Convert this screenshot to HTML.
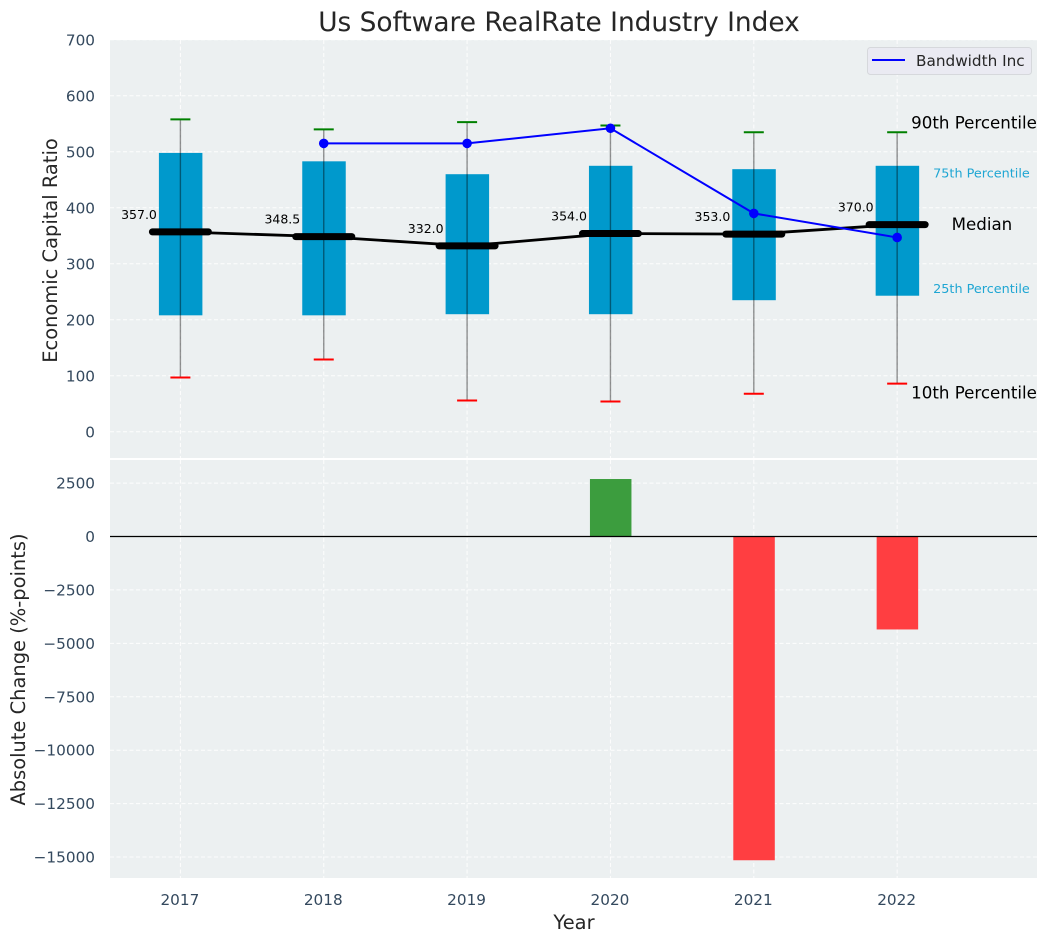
<!DOCTYPE html>
<html lang="en">
<head>
<meta charset="utf-8">
<title>Us Software RealRate Industry Index</title>
<style>
html,body{margin:0;padding:0;background:#fff;width:1048px;height:942px;overflow:hidden}
svg{display:block;font-family:"DejaVu Sans","Liberation Sans",sans-serif}
</style>
</head>
<body>
<svg id="chart" xmlns="http://www.w3.org/2000/svg" width="1048" height="942" viewBox="0 0 1048 942">
  <rect x="110" y="40" width="927" height="418" fill="#ecf0f1"/>
  <rect x="110" y="460" width="927" height="418" fill="#ecf0f1"/>
  <g id="grid"></g>
  <g id="top-marks"></g>
  <g id="bottom-marks"></g>
  <g id="ticks"></g>
  <text x="559" y="31" text-anchor="middle" font-size="26.4" fill="#262626">Us Software RealRate Industry Index</text>
  <text transform="translate(57,250.5) rotate(-90)" text-anchor="middle" font-size="19.44" fill="#262626">Economic Capital Ratio</text>
  <text transform="translate(25,669.5) rotate(-90)" text-anchor="middle" font-size="19.44" fill="#262626">Absolute Change (%-points)</text>
  <text x="574" y="929" text-anchor="middle" font-size="19.44" fill="#262626">Year</text>
  <g>
    <rect x="867.5" y="47.5" width="164" height="27" rx="3" fill="#eaeaf2" stroke="#d6d8dc"/>
    <line x1="872" y1="60" x2="905" y2="60" stroke="#0000ff" stroke-width="2"/>
    <text x="916" y="66" font-size="15.28" fill="#262626">Bandwidth Inc</text>
  </g>
</svg>
<script>
const years = [2017, 2018, 2019, 2020, 2021, 2022];
const p90 = [558, 540, 553, 547, 535, 535];
const p75 = [498, 483, 460, 475, 469, 475];
const medians = [357.0, 348.5, 332.0, 354.0, 353.0, 370.0];
const p25 = [208, 208, 210, 210, 235, 243];
const p10 = [97, 129, 56, 54, 68, 86];
const bandwidthInc = [null, 515, 515, 542, 390, 347];
const absoluteChange = [null, null, null, 2690, -15150, -4350];
const topTicks = [0, 100, 200, 300, 400, 500, 600, 700];
const bottomTicks = [2500, 0, -2500, -5000, -7500, -10000, -12500, -15000];

const NS = 'http://www.w3.org/2000/svg';
const xS = v => 180.4 + (v - 2017) * 143.35;
const yTop = v => 431.8 - v * 0.56;
const yBot = v => 536.5 - v * 0.02137;
const make = (parent, tag, props, text) => {
  const e = document.createElementNS(NS, tag);
  for (const k in props) e.setAttribute(k, props[k]);
  if (text !== undefined) e.textContent = text;
  document.getElementById(parent).appendChild(e);
  return e;
};
const tickColor = '#34495e';
const gridStyle = {stroke: '#ffffff', 'stroke-width': 1, 'stroke-dasharray': '4 2.5', opacity: 0.9};
let el;

topTicks.forEach(t => {
  el = make('grid', 'line', {x1: 110, x2: 1037, y1: yTop(t), y2: yTop(t), ...gridStyle});
  
  
  el = make('ticks', 'text', {x: 95, y: yTop(t) + 5.5, 'text-anchor': 'end', 'font-size': 15.28, fill: tickColor}, String(t));
  
  
});
bottomTicks.forEach(t => {
  el = make('grid', 'line', {x1: 110, x2: 1037, y1: yBot(t), y2: yBot(t), ...gridStyle});
  
  
  el = make('ticks', 'text', {x: 95, y: yBot(t) + 5.5, 'text-anchor': 'end', 'font-size': 15.28, fill: tickColor}, String(t).replace('-', '\u2212'));
  
  
});
years.forEach(y => {
  el = make('grid', 'line', {x1: xS(y), x2: xS(y), y1: 40, y2: 458, ...gridStyle});
  
  
  el = make('grid', 'line', {x1: xS(y), x2: xS(y), y1: 460, y2: 878, ...gridStyle});
  
  
  el = make('ticks', 'text', {x: xS(y) - 0.5, y: 905, 'text-anchor': 'middle', 'font-size': 15.28, fill: tickColor}, String(y));
  
  
});

years.forEach((y, i) => {
  el = make('top-marks', 'rect', {x: xS(y) - 21.5, y: yTop(p75[i]), width: 43.5, height: yTop(p25[i]) - yTop(p75[i]), fill: '#0099cc'});
  
  
  el = make('top-marks', 'line', {x1: xS(y), x2: xS(y), y1: yTop(p90[i]), y2: yTop(p10[i]), stroke: '#000', 'stroke-opacity': 0.42, 'stroke-width': 1.4});
  
  
  el = make('top-marks', 'line', {x1: xS(y) - 10, x2: xS(y) + 10, y1: yTop(p90[i]), y2: yTop(p90[i]), stroke: '#008000', 'stroke-width': 2});
  
  
  el = make('top-marks', 'line', {x1: xS(y) - 10, x2: xS(y) + 10, y1: yTop(p10[i]), y2: yTop(p10[i]), stroke: '#ff0000', 'stroke-width': 2});
  
  
});

el = make('top-marks', 'polyline', {points: years.map((y, i) => xS(y) + ',' + yTop(medians[i])).join(' '), fill: 'none', stroke: '#000', 'stroke-width': 2.8});



years.forEach((y, i) => {
  el = make('top-marks', 'line', {x1: xS(y) - 28, x2: xS(y) + 28, y1: yTop(medians[i]), y2: yTop(medians[i]), stroke: '#000', 'stroke-width': 7, 'stroke-linecap': 'round'});
  
  
  el = make('top-marks', 'text', {x: xS(y) - 23.5, y: yTop(medians[i]) - 13, 'text-anchor': 'end', 'font-size': 12.5, fill: '#000'}, medians[i].toFixed(1));
  
  
});

const bandPts = years.map((y, i) => [y, bandwidthInc[i]]).filter(p => p[1] !== null);
el = make('top-marks', 'polyline', {points: bandPts.map(p => xS(p[0]) + ',' + yTop(p[1])).join(' '), fill: 'none', stroke: '#0000ff', 'stroke-width': 2});


bandPts.forEach(p => {
  el = make('top-marks', 'circle', {cx: xS(p[0]), cy: yTop(p[1]), r: 4.8, fill: '#0000ff'});
  
  
});

const last = years.length - 1;
const lx = xS(years[last]);
el = make('top-marks', 'text', {x: lx + 14, y: yTop(p90[last]) - 3.5, 'font-size': 16.67, fill: '#000'}, '90th Percentile');


el = make('top-marks', 'text', {x: lx + 14, y: yTop(p10[last]) + 15, 'font-size': 16.67, fill: '#000'}, '10th Percentile');


el = make('top-marks', 'text', {x: lx + 36, y: yTop(p75[last]) + 11.5, 'font-size': 12.8, fill: '#1fa6d3'}, '75th Percentile');


el = make('top-marks', 'text', {x: lx + 36, y: yTop(p25[last]) - 2.5, 'font-size': 12.8, fill: '#1fa6d3'}, '25th Percentile');


el = make('top-marks', 'text', {x: lx + 54.5, y: yTop(medians[last]) + 5.5, 'font-size': 16.67, fill: '#000'}, 'Median');



years.forEach((y, i) => {
  const v = absoluteChange[i];
  if (v === null) return;
  el = make('bottom-marks', 'rect', {x: xS(y) - 20.5, y: Math.min(yBot(v), yBot(0)), width: 41.5, height: Math.abs(yBot(v) - yBot(0)), fill: v >= 0 ? '#3c9d3e' : '#ff3e41'});
  
  
});
el = make('bottom-marks', 'line', {x1: 110, x2: 1037, y1: yBot(0), y2: yBot(0), stroke: '#000', 'stroke-width': 1.3});


</script>
</body>
</html>
